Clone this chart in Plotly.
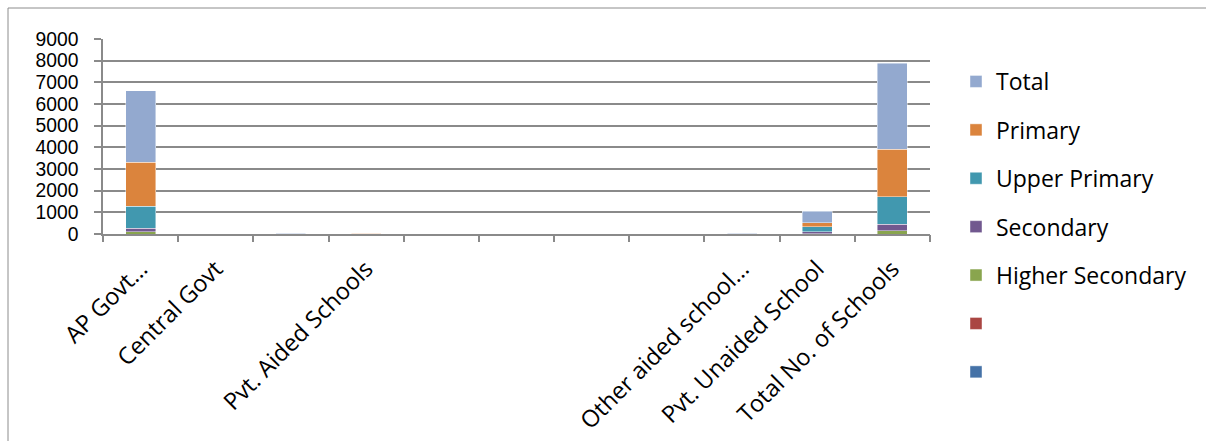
import plotly.graph_objects as go

# School counts by management type and level
categories = ["AP Govt…", "Central Govt", "", "Pvt. Aided Schools", "", "", "", "",
              "Other aided school…", "Pvt. Unaided School", "Total No. of Schools"]

series_blue = [0, 0, 0, 0, 0, 0, 0, 0, 0, 0, 0]
series_red = [0, 0, 0, 0, 0, 0, 0, 0, 0, 0, 0]
higher_secondary = [100, 0, 2, 3, 0, 0, 0, 0, 2, 10, 140]
secondary = [165, 0, 4, 5, 0, 0, 0, 0, 3, 95, 310]
upper_primary = [1010, 0, 6, 8, 0, 0, 0, 0, 4, 230, 1270]
primary = [2030, 0, 8, 12, 0, 0, 0, 0, 5, 185, 2200]
total = [3310, 0, 20, 28, 0, 0, 0, 0, 14, 530, 3960]

y_ticks = [0, 1000, 2000, 3000, 4000, 5000, 6000, 7000, 8000, 9000]

# figure geometry (pixels)
W, H = 1206, 441
L, R, T, B = 103, 930, 39, 234
PW, PH = R - L, B - T

FONT = "Open Sans"
TICK_FONT = "Liberation Sans"
GRID = "#8a8a8a"
FRAME = "#8c8c8c"

x_pos = list(range(1, len(categories) + 1))
boundaries = [i + 0.5 for i in range(0, len(categories) + 1)]

# stacking order bottom -> top; legend lists top of stack first
traces = [
    ("", series_blue, "#4572A7"),
    ("", series_red, "#AA4643"),
    ("Higher Secondary", higher_secondary, "#89A54E"),
    ("Secondary", secondary, "#71588F"),
    ("Upper Primary", upper_primary, "#4198AF"),
    ("Primary", primary, "#DB843D"),
    ("Total", total, "#93A9CF"),
]

fig = go.Figure()
for i, (name, vals, color) in enumerate(traces):
    fig.add_trace(go.Bar(
        x=x_pos, y=vals, name=name, legendgroup=f"g{i}",
        legendrank=len(traces) - i,
        marker=dict(color=color, line=dict(color="rgba(255,255,255,0.55)", width=0.8)),
        width=0.4, showlegend=True,
    ))

# chart frame: left and top edges (the rest falls outside the view)
frame_left = (8 - L) / PW
frame_top = (B - 8) / PH
frame_right = (W + 80 - L) / PW
frame_bottom = (B - (H + 80)) / PH

fig.update_layout(
    width=W, height=H,
    margin=dict(l=L, r=W - R, t=T, b=H - B, pad=0, autoexpand=False),
    paper_bgcolor="white", plot_bgcolor="white",
    barmode="stack",
    font=dict(family=FONT, size=22, color="#000000"),
    showlegend=True,
    legend=dict(
        x=(956 - L) / PW, xanchor="left",
        y=(B - 60) / PH, yanchor="top",
        traceorder="grouped", tracegroupgap=15.5, maxheight=420,
        font=dict(family=FONT, size=23, color="#000000"),
        bgcolor="rgba(0,0,0,0)",
    ),
    xaxis=dict(
        range=[0.5, len(categories) + 0.5], automargin=False,
        tickmode="array", tickvals=x_pos, ticktext=categories,
        tickangle=-45, ticks="", showgrid=False, zeroline=False,
        showline=True, linecolor=GRID, linewidth=1.5,
        ticklabelstandoff=10,
        tickfont=dict(family=FONT, size=23.5, color="#000000"),
    ),
    xaxis2=dict(
        overlaying="x", anchor="y", side="bottom", automargin=False,
        range=[0.5, len(categories) + 0.5],
        tickmode="array", tickvals=boundaries,
        ticks="outside", ticklen=7, tickcolor=GRID, tickwidth=1.5,
        showticklabels=False, showgrid=False, zeroline=False, showline=False,
    ),
    yaxis=dict(
        range=[0, 9000], tickmode="array", tickvals=y_ticks, automargin=False,
        ticks="outside", ticklen=7, tickcolor=GRID, tickwidth=1.5,
        showgrid=True, gridcolor=GRID, gridwidth=1.5,
        zeroline=False, showline=True, linecolor=GRID, linewidth=1.5,
        ticklabelstandoff=12,
        tickfont=dict(family=TICK_FONT, size=19.3, color="#000000"),
    ),
    shapes=[
        dict(type="line", xref="paper", yref="paper",
             x0=frame_left, x1=frame_left, y0=frame_bottom, y1=frame_top,
             line=dict(color=FRAME, width=1), layer="below"),
        dict(type="line", xref="paper", yref="paper",
             x0=frame_left, x1=frame_right, y0=frame_top, y1=frame_top,
             line=dict(color=FRAME, width=1), layer="below"),
    ],
)

# keep the boundary-tick axis attached to an invisible trace
fig.add_trace(go.Scatter(x=[0.5], y=[None], xaxis="x2", showlegend=False, hoverinfo="skip"))

fig.write_html("out.html")
